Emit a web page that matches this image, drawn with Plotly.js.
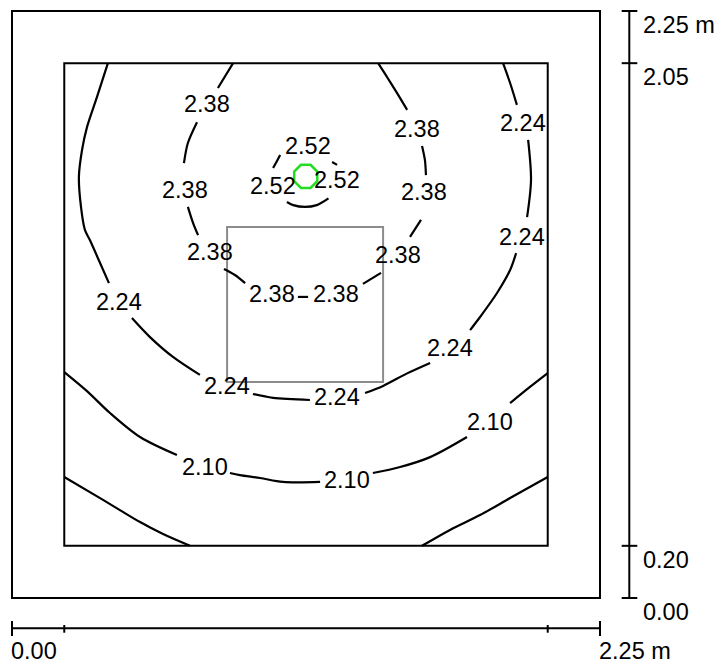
<!DOCTYPE html>
<html><head><meta charset="utf-8">
<script src="https://cdn.plot.ly/plotly-3.0.1.min.js"></script>
<style>html,body{margin:0;padding:0;background:#fff;} #chart{width:719px;height:665px;}</style>
</head><body><div id="chart"></div>
<script>
// ---- data (metres) ----
const roomBounds = [0.00, 2.25];
const gridBounds = [0.20, 2.05];
const taskAreaX = [0.823, 1.420];
const taskAreaY = [0.828, 1.422];
const luminaireX = [1.124];
const luminaireY = [1.616];
const scaleTicks = [0.00, 0.20, 2.05, 2.25];
const xScaleLabels = ['0.00', '', '', '2.25 m'];
const yScaleLabels = ['0.00', '0.20', '2.05', '2.25 m'];
const isoLevels = [2.10, 2.24, 2.38, 2.52];

// isolines (null = gap where the label sits)
const iso210X = [0.20,0.287,0.375,0.490,0.631,null,0.834,0.872,0.949,1.037,1.179,null,1.381,1.485,1.600,1.741,null,1.906,1.982,2.05];
const iso210Y = [0.866,0.793,0.709,0.617,0.548,null,0.479,0.471,0.460,0.445,0.445,null,0.479,0.502,0.540,0.617,null,0.747,0.809,0.862];
const iso224X = [0.367,0.325,0.287,0.268,0.256,0.264,0.279,0.298,0.337,0.371,null,0.459,0.528,0.616,0.719,null,0.922,0.999,1.140,null,1.351,1.420,1.512,1.600,null,1.753,1.791,1.856,1.906,1.929,null,1.971,1.986,1.975,null,1.932,1.906,1.879];
const iso224Y = [2.05,1.920,1.805,1.717,1.614,1.499,1.411,1.372,1.284,1.207,null,1.073,1.000,0.924,0.855,null,0.782,0.767,0.759,null,0.786,0.813,0.861,0.901,null,1.027,1.077,1.169,1.257,1.322,null,1.460,1.602,1.756,null,1.890,1.974,2.05];
const iso238X = [0.846,0.788,null,0.708,0.673,0.658,null,0.673,0.693,0.712,null,0.811,0.853,0.892,null,1.094,1.133,null,1.343,1.412,null,1.523,1.565,null,1.569,1.580,1.584,null,1.512,1.473,1.435,1.401];
const iso238Y = [2.05,1.955,null,1.824,1.744,1.667,null,1.499,1.437,1.391,null,1.261,1.238,1.207,null,1.154,1.154,null,1.204,1.246,null,1.384,1.449,null,1.733,1.679,1.621,null,1.871,1.936,1.997,2.05];
const iso252X = [1.026,1.014,0.999,null,1.225,1.244,null,1.052,1.076,1.121,1.166,1.211];
const iso252Y = [1.698,1.675,1.648,null,1.671,1.660,null,1.518,1.506,1.499,1.506,1.532];
const isoCornerX = [0.20,0.337,0.413,0.490,0.578,0.681,null,1.569,1.676,1.791,1.906,2.05];
const isoCornerY = [0.464,0.383,0.337,0.291,0.245,0.20,null,0.20,0.261,0.318,0.383,0.464];

// label positions
const label210X = [0.739,1.280,1.829];
const label210Y = [0.504,0.452,0.675];
const label224X = [0.409,0.823,1.244,1.676,1.952,1.955];
const label224Y = [1.135,0.813,0.770,0.958,1.384,1.821];
const label238X = [0.746,0.662,0.758,0.993,1.238,1.477,1.577,1.550];
const label238Y = [1.894,1.562,1.326,1.165,1.165,1.315,1.556,1.798];
const label252X = [1.132,0.999,1.243];
const label252Y = [1.734,1.579,1.602];

// ---- drawing ----
const FONT = {family: 'Liberation Sans, Arial, sans-serif', size: 23.5, color: '#000'};
const lineStyle = {color: '#000', width: 2.2, shape: 'spline', smoothing: 0.9};

function isoTrace(x, y) {
  return {type: 'scatter', mode: 'lines', x: x, y: y, line: lineStyle,
          connectgaps: false, hoverinfo: 'skip'};
}
const traces = [
  isoTrace(iso210X, iso210Y),
  isoTrace(iso224X, iso224Y),
  isoTrace(iso238X, iso238Y),
  isoTrace(iso252X, iso252Y),
  isoTrace(isoCornerX, isoCornerY),
  {type: 'scatter', mode: 'markers', x: luminaireX, y: luminaireY,
   marker: {symbol: 'octagon-open', size: 25, color: '#22dd22', line: {width: 2.5, color: '#22dd22'}},
   hoverinfo: 'skip'}
];

const annotations = [];
function addLabels(xs, ys, level) {
  xs.forEach((x, i) => annotations.push({
    x: x, y: ys[i], xref: 'x', yref: 'y', text: level.toFixed(2),
    showarrow: false, xanchor: 'center', yanchor: 'middle', font: FONT
  }));
}
addLabels(label210X, label210Y, isoLevels[0]);
addLabels(label224X, label224Y, isoLevels[1]);
addLabels(label238X, label238Y, isoLevels[2]);
addLabels(label252X, label252Y, isoLevels[3]);

const W = 719, H = 665;
const shapes = [];
const blk = {color: '#000', width: 2};
// room outline and calculation surface
shapes.push({type: 'rect', xref: 'x', yref: 'y', x0: roomBounds[0], x1: roomBounds[1], y0: roomBounds[0], y1: roomBounds[1], line: blk, layer: 'below'});
shapes.push({type: 'rect', xref: 'x', yref: 'y', x0: gridBounds[0], x1: gridBounds[1], y0: gridBounds[0], y1: gridBounds[1], line: blk, layer: 'below'});
// task area
shapes.push({type: 'rect', xref: 'x', yref: 'y', x0: taskAreaX[0], x1: taskAreaX[1], y0: taskAreaY[0], y1: taskAreaY[1], line: {color: '#8c8c8c', width: 2}, layer: 'below'});

// right scale bar
const rx = 629.3 / W, rt0 = 621.7 / W, rt1 = 637.3 / W;
shapes.push({type: 'line', xref: 'paper', yref: 'y', x0: rx, x1: rx, y0: scaleTicks[0], y1: scaleTicks[scaleTicks.length - 1], line: blk});
scaleTicks.forEach((t, i) => {
  shapes.push({type: 'line', xref: 'paper', yref: 'y', x0: rt0, x1: rt1, y0: t, y1: t, line: blk});
  annotations.push({x: 643 / W, y: t, xref: 'paper', yref: 'y', text: yScaleLabels[i], showarrow: false,
    xanchor: 'left', yanchor: 'middle', yshift: -14, xshift: -2, font: FONT});
});
// bottom scale bar
const by = 1 - 628.3 / H;
shapes.push({type: 'line', xref: 'x', yref: 'paper', x0: scaleTicks[0], x1: scaleTicks[scaleTicks.length - 1], y0: by, y1: by, line: blk});
scaleTicks.forEach((t, i) => {
  const big = (i === 0 || i === scaleTicks.length - 1);
  const y0 = big ? 1 - 621 / H : 1 - 625 / H;
  const y1 = big ? 1 - 636 / H : 1 - 632.7 / H;
  shapes.push({type: 'line', xref: 'x', yref: 'paper', x0: t, x1: t, y0: y0, y1: y1, line: blk});
  if (xScaleLabels[i]) {
    annotations.push({x: t, y: 1 - 651 / H, xref: 'x', yref: 'paper', text: xScaleLabels[i], showarrow: false,
      xanchor: 'left', yanchor: 'middle', xshift: -2, borderpad: 0, font: FONT});
  }
});

const layout = {
  width: W, height: H,
  margin: {l: 0, r: 0, t: 0, b: 0, pad: 0},
  paper_bgcolor: '#fff', plot_bgcolor: '#fff',
  showlegend: false,
  xaxis: {range: [-0.04592, 2.70536], visible: false, fixedrange: true},
  yaxis: {range: [-0.25681, 2.29216], visible: false, fixedrange: true},
  shapes: shapes,
  annotations: annotations
};
Plotly.newPlot('chart', traces, layout, {staticPlot: true, displayModeBar: false});
</script>
</body></html>
